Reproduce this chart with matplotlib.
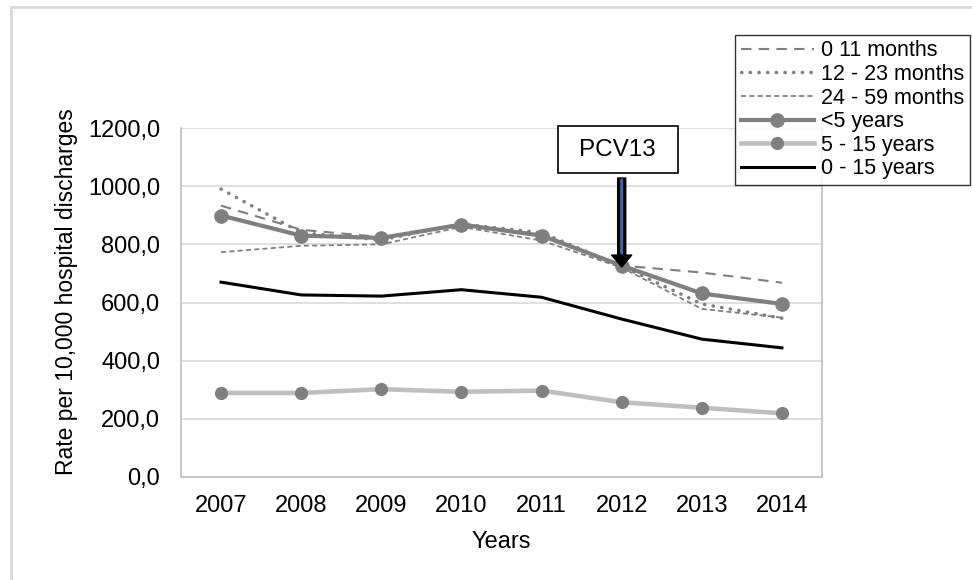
import matplotlib
matplotlib.use("Agg")
import matplotlib.pyplot as plt
from matplotlib.ticker import FuncFormatter
from matplotlib.patches import Rectangle

plt.rcParams['font.family'] = ['Liberation Sans', 'DejaVu Sans']

years = ['2007', '2008', '2009', '2010', '2011', '2012', '2013', '2014']
m0_11 = [933, 850, 825, 865, 835, 727, 703, 668]
m12_23 = [990, 840, 815, 870, 840, 725, 595, 546]
m24_59 = [773, 795, 800, 860, 813, 720, 578, 548]
under5 = [899, 830, 822, 868, 830, 727, 631, 595]
y5_15 = [289, 289, 302, 293, 297, 257, 238, 219]
y0_15 = [670, 626, 622, 644, 618, 543, 474, 444]

fig = plt.figure(figsize=(9.72, 5.8), dpi=100)
ax = fig.add_axes([181 / 972, 103 / 580, 641 / 972, 349 / 580])

x = list(range(len(years)))
gray = '#7f7f7f'

ax.plot(x, m0_11, color=gray, lw=1.5, dashes=(5, 3.5), label='0 11 months')
ax.plot(x, m12_23, color=gray, lw=2.5, linestyle=(0, (0.1, 2.4)),
        dash_capstyle='round', label='12 - 23 months')
ax.plot(x, m24_59, color=gray, lw=1.3, dashes=(2.8, 1.8), label='24 - 59 months')
ax.plot(x, under5, color=gray, lw=3, marker='o', ms=9.5, mfc=gray, mec=gray,
        label='<5 years')
ax.plot(x, y5_15, color='#bfbfbf', lw=3.3, marker='o', ms=8.5, mfc='#808080',
        mec='#808080', label='5 - 15 years')
ax.plot(x, y0_15, color='black', lw=2.2, label='0 - 15 years')

ax.set_xlim(-0.5, 7.5)
ax.set_ylim(0, 1200)
ax.set_xticks(x)
ax.set_xticklabels(years)
ax.set_yticks(range(0, 1201, 200))
ax.yaxis.set_major_formatter(FuncFormatter(lambda v, p: f"{v:.1f}".replace('.', ',')))
ax.tick_params(axis='both', length=0, labelsize=17)
ax.tick_params(axis='y', pad=15)
ax.tick_params(axis='x', pad=13)
ax.grid(axis='y', color='#d9d9d9', lw=1.2)
ax.set_axisbelow(True)
for side in ['left', 'bottom', 'right', 'top']:
    ax.spines[side].set_color('#bfbfbf')
    ax.spines[side].set_linewidth(1.2)
ax.spines['top'].set_visible(False)

ax.set_xlabel('Years', fontsize=17, labelpad=10)
ax.set_ylabel('Rate per 10,000 hospital discharges', fontsize=16.5)
ax.yaxis.set_label_coords(-0.16, 0.53)

# PCV13 box and arrow
ax.add_patch(Rectangle((0.588, 0.871), 0.187, 0.135, transform=ax.transAxes,
                       fc='white', ec='black', lw=1.2, clip_on=False, zorder=5))
ax.text(0.6815, 0.938, 'PCV13', transform=ax.transAxes, ha='center', va='center',
        fontsize=17.5, zorder=6)
ax.annotate('', xy=(5, 722), xytext=(5, 1028),
            arrowprops=dict(arrowstyle='simple,head_length=0.86,head_width=1.44,tail_width=0.58',
                            mutation_scale=10, fc='black', ec='black', lw=1,
                            shrinkA=0, shrinkB=0), zorder=6)
ax.annotate('', xy=(5, 770), xytext=(5, 1022),
            arrowprops=dict(arrowstyle='-', color='#3f64b0', lw=2.2,
                            shrinkA=0, shrinkB=0), zorder=7)

leg = fig.legend(loc='upper right', bbox_to_anchor=(970 / 972, 1 - 35 / 580),
                 fontsize=15.5, frameon=True, fancybox=False, handlelength=3.4,
                 handletextpad=0.35, labelspacing=0.12, borderpad=0.25,
                 borderaxespad=0)
leg.get_frame().set_edgecolor('black')
leg.get_frame().set_linewidth(1.0)

fig.add_artist(Rectangle((11 / 972, -0.05), 1.1, 1 - 7 / 580 + 0.05,
                         transform=fig.transFigure, fill=False,
                         ec='#d9d9d9', lw=2))

fig.savefig('out.png', dpi=100)
